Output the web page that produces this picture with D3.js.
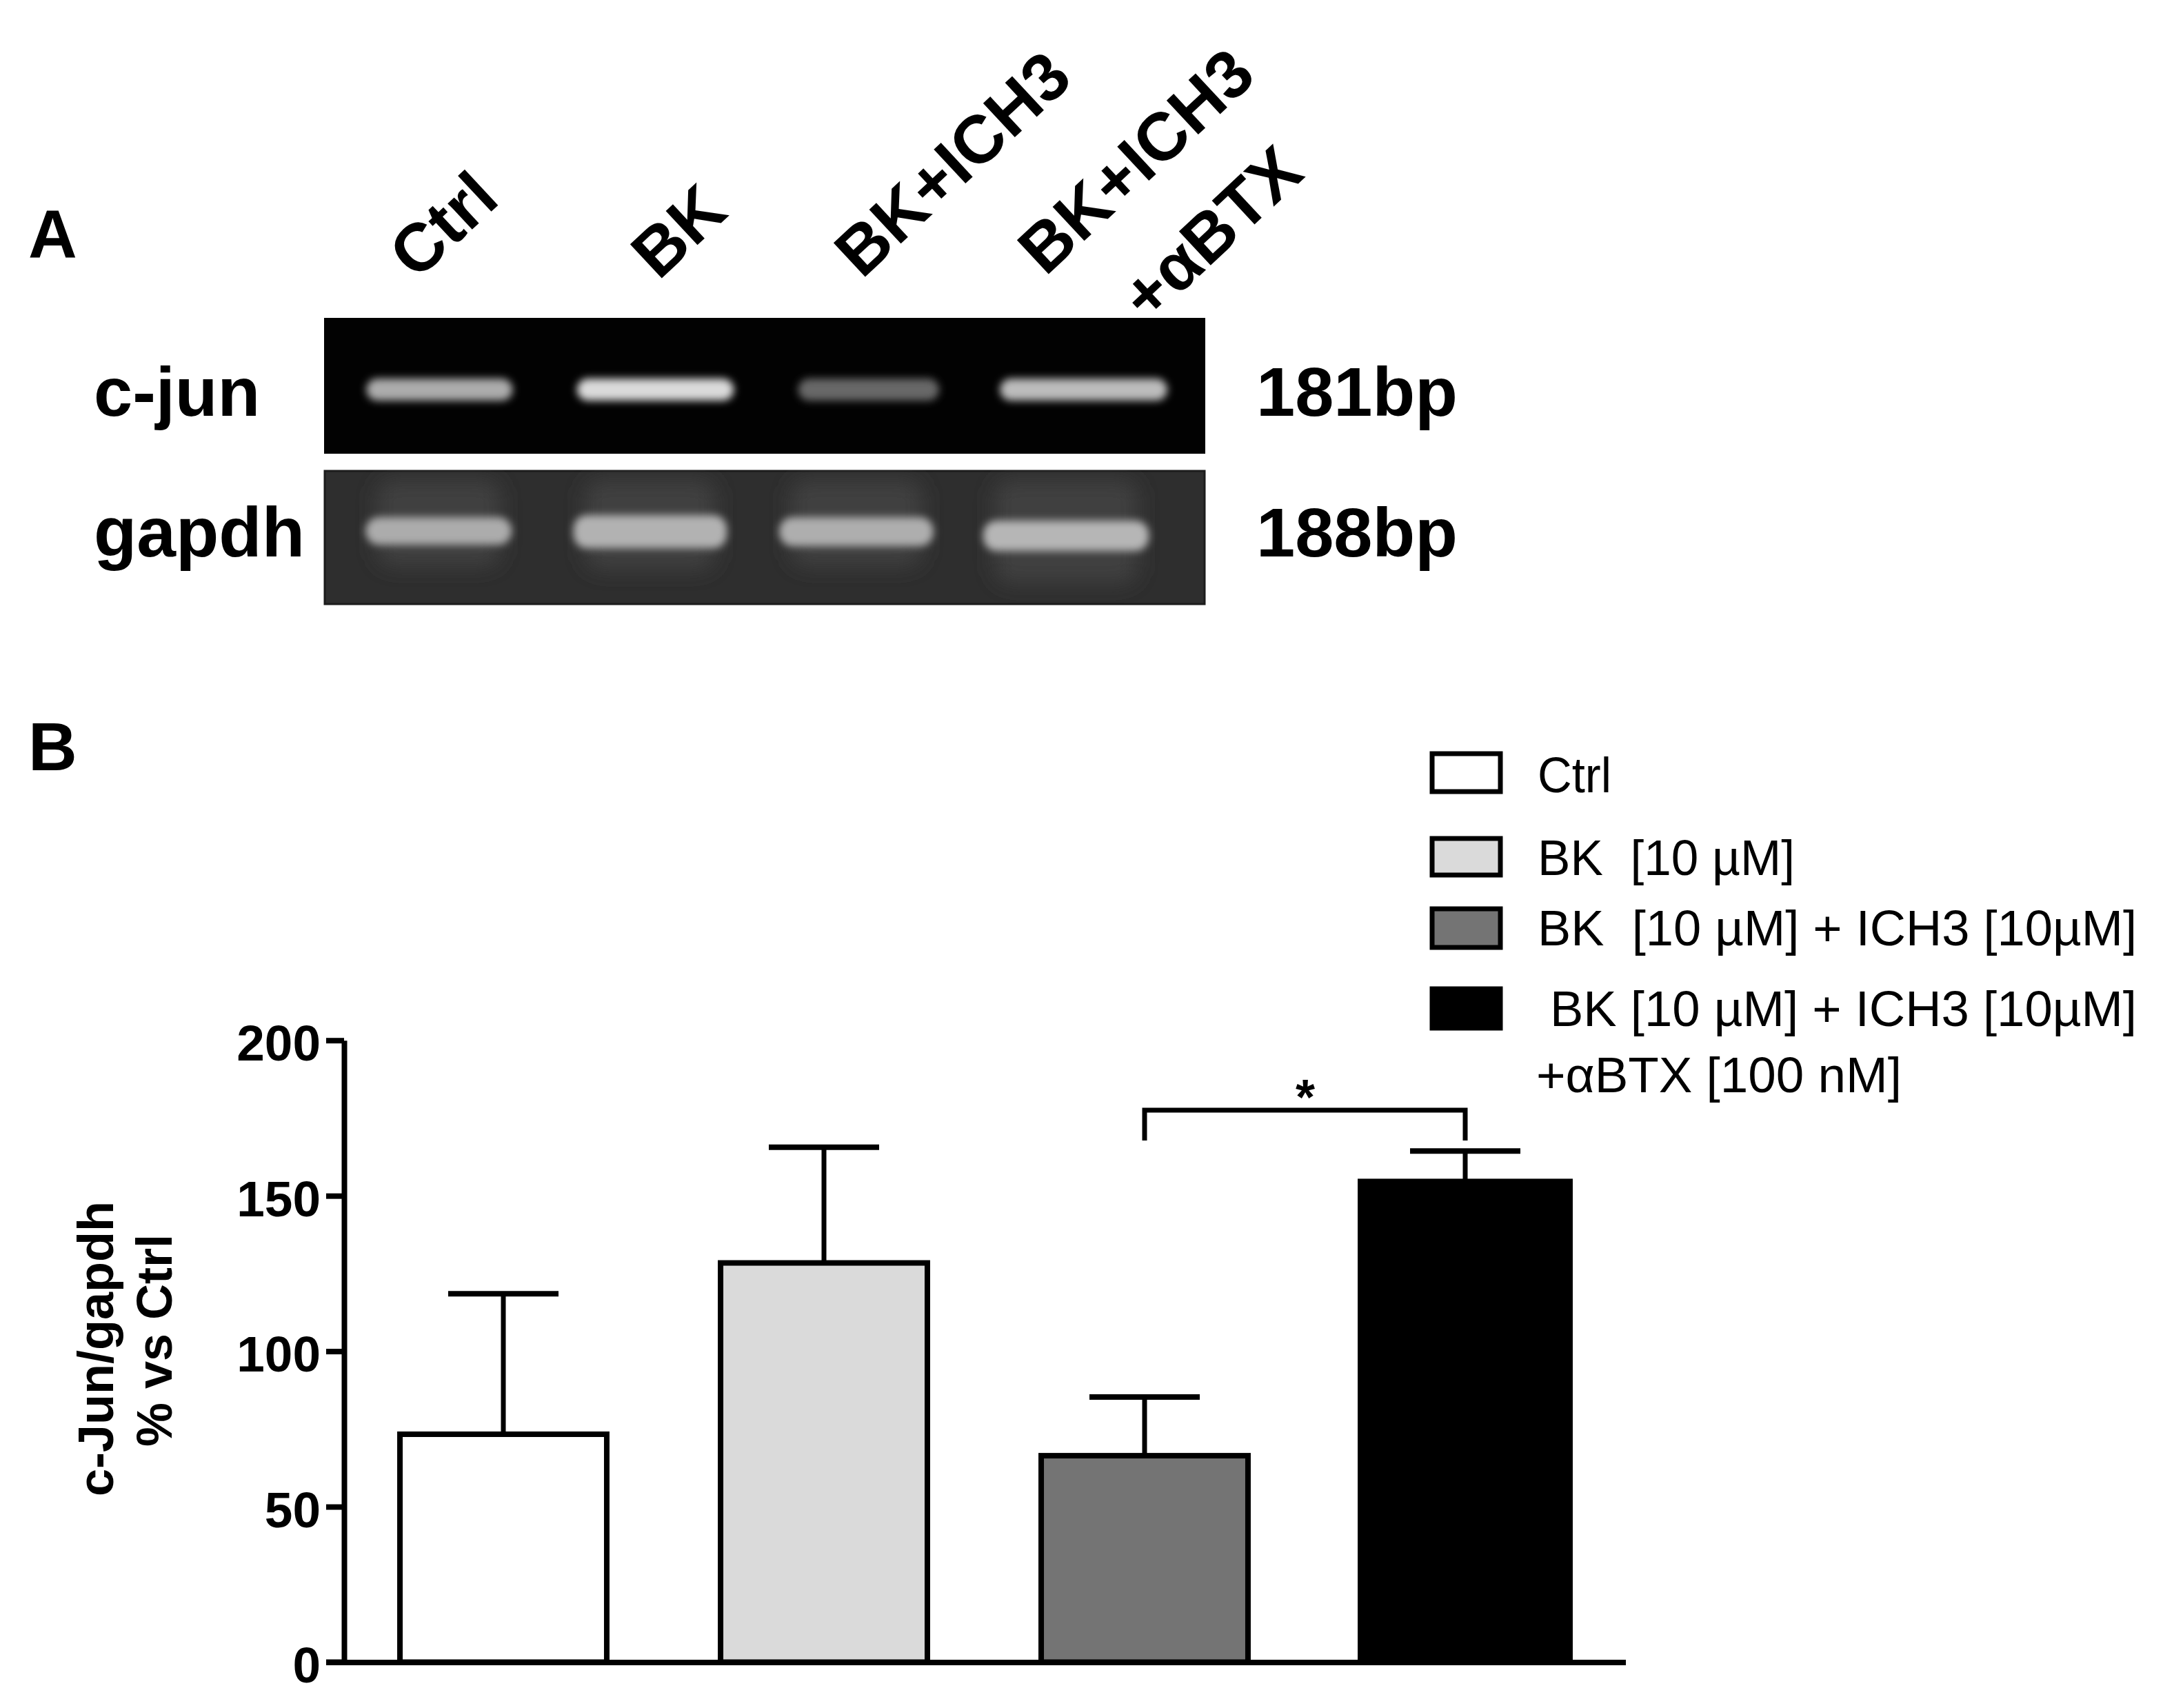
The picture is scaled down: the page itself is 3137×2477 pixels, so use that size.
<!DOCTYPE html>
<html><head><meta charset="utf-8">
<script src="https://cdn.jsdelivr.net/npm/d3@7/dist/d3.min.js"></script>
<style>html,body{margin:0;background:#fff}svg{display:block}text{font-family:"Liberation Sans",Arimo,Helvetica,sans-serif;fill:#000}</style>
</head><body><svg id="c" width="3137" height="2477"></svg>
<script>
const categories = ["Ctrl","BK","BK+ICH3","BK+ICH3+αBTX"];
const means = [73.3,128.4,66.4,154.6];
const errorTops = [118.5,165.6,85.3,164.4];
const barFills = ["#ffffff","#dadada","#747474","#000000"];
const yTicks = [0,50,100,150,200];
const legendLabels = ["Ctrl","BK  [10 µM]","BK  [10 µM] + ICH3 [10µM]"," BK [10 µM] + ICH3 [10µM]","+αBTX [100 nM]"];
const laneLabels = [["Ctrl"],["BK"],["BK+ICH3"],["BK+ICH3","+αBTX"]];
// gel band readings, in percent of the gel width / brightness
const cJunCentre = [13.1,37.6,61.8,86.2];
const cJunWidth = [16.6,17.8,16.0,19.0];
const cJunLevel = ["#acacac","#dadada","#686868","#bcbcbc"];
const gapdhCentre = [13.0,37.0,60.4,84.2];
const gapdhWidth = [16.6,17.4,17.5,18.8];
const gapdhLevel = ["#acacac","#b2b2b2","#aeaeae","#b6b6b6"];

const svg = d3.select("#c");
const defs = svg.append("defs");
defs.append("filter").attr("id","b1").attr("x","-30%").attr("y","-100%").attr("width","160%").attr("height","300%")
  .append("feGaussianBlur").attr("stdDeviation",6);
defs.append("filter").attr("id","b2").attr("x","-30%").attr("y","-100%").attr("width","160%").attr("height","300%")
  .append("feGaussianBlur").attr("stdDeviation",15);
defs.append("clipPath").attr("id","g1").append("rect").attr("x",470).attr("y",461).attr("width",1278).attr("height",197);
defs.append("clipPath").attr("id","g2").append("rect").attr("x",470).attr("y",682).attr("width",1278).attr("height",195);

// Panel A
svg.append("text").attr("x",41).attr("y",373).attr("font-size",98).attr("font-weight",700).text("A");
svg.append("text").attr("x",41).attr("y",1117).attr("font-size",98).attr("font-weight",700).text("B");

const gelX = d3.scaleLinear().domain([0,100]).range([470,1748]);
svg.append("rect").attr("x",470).attr("y",461).attr("width",1278).attr("height",197).attr("fill","#020202");
const g1 = svg.append("g").attr("clip-path","url(#g1)");
g1.selectAll("rect.o").data(cJunCentre).join("rect").attr("class","o")
  .attr("x",(d,i)=>gelX(d-cJunWidth[i]/2)).attr("width",(d,i)=>gelX(cJunWidth[i])-gelX(0))
  .attr("y",549).attr("height",32).attr("rx",16).attr("fill",(d,i)=>cJunLevel[i]).attr("filter","url(#b1)");

svg.append("rect").attr("x",471).attr("y",683).attr("width",1276).attr("height",193).attr("fill","#2e2e2e").attr("stroke","#1c1c1c").attr("stroke-width",3);
const g2 = svg.append("g").attr("clip-path","url(#g2)");
g2.selectAll("rect.s").data(gapdhCentre).join("rect").attr("class","s")
  .attr("x",(d,i)=>gelX(d-gapdhWidth[i]/2)+16).attr("width",(d,i)=>gelX(gapdhWidth[i])-gelX(0)-32)
  .attr("y",696).attr("height",(d,i)=>[125,130,125,150][i]).attr("rx",24).attr("fill","#414141").attr("filter","url(#b2)");
g2.selectAll("rect.o").data(gapdhCentre).join("rect").attr("class","o")
  .attr("x",(d,i)=>gelX(d-gapdhWidth[i]/2)).attr("width",(d,i)=>gelX(gapdhWidth[i])-gelX(0))
  .attr("y",(d,i)=>[750,747,750,755][i]).attr("height",(d,i)=>[40,48,42,44][i]).attr("rx",20).attr("fill",(d,i)=>gapdhLevel[i]).attr("filter","url(#b1)");

const sideLabels = [["c-jun",136,603,101],["gapdh",136,807,102],["181bp",1822,603,101],["188bp",1822,807,101]];
svg.selectAll("text.side").data(sideLabels).join("text").attr("class","side")
  .attr("x",d=>d[1]).attr("y",d=>d[2]).attr("font-size",d=>d[3]).attr("font-weight",700).text(d=>d[0]);

const laneAnchors = [[604,408],[955,408],[1250,406],[1516,402]];
laneLabels.forEach((lines,i)=>{
  const t = svg.append("g").attr("transform",`translate(${laneAnchors[i][0]},${laneAnchors[i][1]}) rotate(-43)`);
  lines.forEach((s,j)=>{
    t.append("text").attr("x",j?63:0).attr("y",j*151).attr("font-size",98).attr("font-weight",700).text(s);
  });
});

// Panel B
const y = d3.scaleLinear().domain([0,200]).range([2410.5,1508.7]);
const x = d3.scaleBand().domain(categories).range([497.5,2357.5]).paddingInner(0.355).paddingOuter(0.1775);
const barInset = [0,0,0,-2];
const g = svg.append("g");

g.append("g").selectAll("rect").data(categories).join("rect")
  .attr("x",(c,i)=>x(c)+barInset[i]).attr("width",(c,i)=>x.bandwidth()-2*barInset[i])
  .attr("y",(c,i)=>y(means[i])).attr("height",(c,i)=>y(0)-y(means[i]))
  .attr("fill",(c,i)=>barFills[i]).attr("stroke","#000").attr("stroke-width",8);
const cx = c=>x(c)+x.bandwidth()/2;
g.append("g").selectAll("line").data(categories).join("line")
  .attr("x1",cx).attr("x2",cx).attr("y1",(c,i)=>y(means[i])).attr("y2",(c,i)=>y(errorTops[i]))
  .attr("stroke","#000").attr("stroke-width",7);
g.append("g").selectAll("line").data(categories).join("line")
  .attr("x1",c=>cx(c)-80).attr("x2",c=>cx(c)+80).attr("y1",(c,i)=>y(errorTops[i])).attr("y2",(c,i)=>y(errorTops[i]))
  .attr("stroke","#000").attr("stroke-width",8);

const yAxis = g.append("g").attr("transform","translate(499,0)")
  .call(d3.axisLeft(y).tickValues(yTicks).tickSize(26).tickPadding(8).tickSizeOuter(0));
yAxis.selectAll("path,line").attr("stroke","#000").attr("stroke-width",8);
yAxis.selectAll("text").attr("font-size",73).attr("font-weight",700).attr("font-family",'"Liberation Sans"').attr("fill","#000").attr("dy","0.36em").attr("transform","translate(0,3)");
const xAxis = g.append("g").attr("transform",`translate(0,${y(0)})`)
  .call(d3.axisBottom(x).tickSize(0).tickFormat(""));
xAxis.select("path").attr("stroke","#000").attr("stroke-width",8);
g.append("line").attr("x1",473).attr("x2",500).attr("y1",y(0)).attr("y2",y(0)).attr("stroke","#000").attr("stroke-width",8);

const yt = svg.append("g").attr("font-size",72).attr("font-weight",700).attr("text-anchor","middle");
yt.append("text").attr("transform","translate(164,1956) rotate(-90)").text("c-Jun/gapdh");
yt.append("text").attr("transform","translate(249,1944) rotate(-90)").text("% vs Ctrl");

// significance bracket
const bx1 = cx(categories[2]), bx2 = cx(categories[3]);
svg.append("path").attr("d",d3.line()([[bx1,1654],[bx1,1610],[bx2,1610],[bx2,1654]])).attr("fill","none").attr("stroke","#000").attr("stroke-width",7);
svg.append("text").attr("x",1893).attr("y",1616).attr("text-anchor","middle").attr("font-size",72).attr("font-weight",700).text("*");

// legend
const swY = [1090,1213,1315,1431], swH=[61,59,62,63];
svg.selectAll("rect.sw").data(barFills).join("rect").attr("class","sw")
  .attr("x",2077).attr("width",99).attr("y",(d,i)=>swY[i]+3).attr("height",(d,i)=>swH[i]-6)
  .attr("fill",d=>d).attr("stroke","#000").attr("stroke-width",7);
const lgX=[2230,2230,2230,2248,2228], lgY=[1149,1269,1371,1488,1584], lgW=[107,373,869,851,530];
svg.selectAll("text.lg").data(legendLabels).join("text").attr("class","lg")
  .attr("x",(d,i)=>lgX[i]).attr("y",(d,i)=>lgY[i]).attr("font-size",72)
  .attr("textLength",(d,i)=>lgW[i]).attr("lengthAdjust","spacingAndGlyphs")
  .style("white-space","pre").text(d=>d.trim());
</script></body></html>
